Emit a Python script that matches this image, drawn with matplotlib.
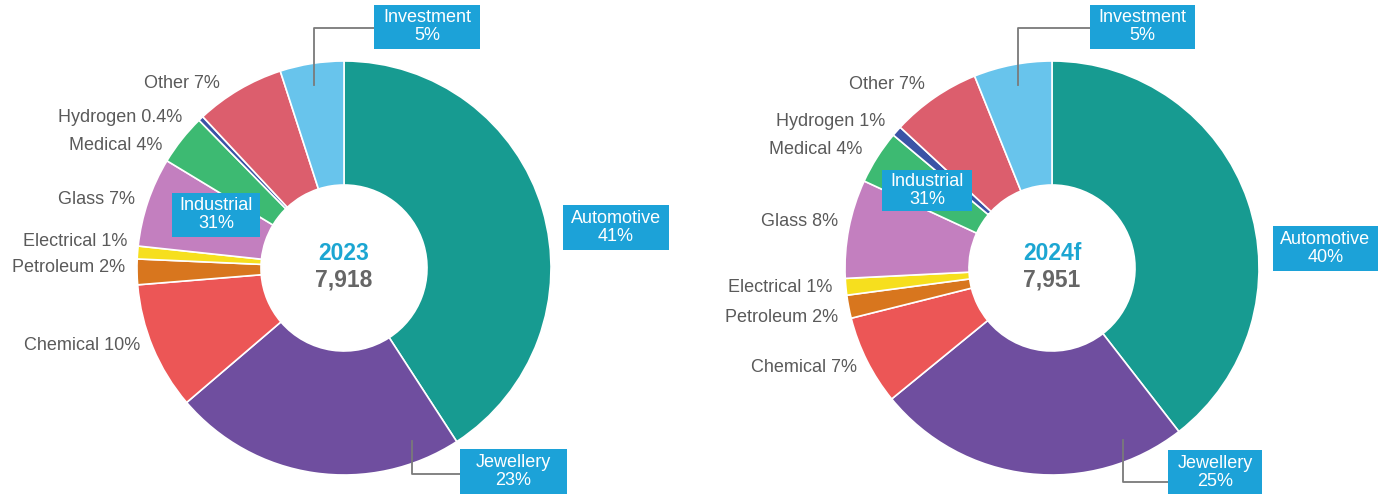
import matplotlib
matplotlib.use("Agg")
import matplotlib.pyplot as plt
from matplotlib.patches import Rectangle

# ---------------- data ----------------
categories = ["Automotive", "Jewellery", "Chemical", "Petroleum", "Electrical",
              "Glass", "Medical", "Hydrogen", "Other", "Investment"]
# wedge sizes (share of demand, %)
values_2023 = [41, 23, 10, 2, 1, 7, 4, 0.4, 7, 5]
values_2024 = [39.5, 24.6, 7.0, 1.8, 1.3, 7.7, 4.2, 0.8, 7.0, 6.1]
# printed labels
pct_text_2023 = ["41%", "23%", "10%", "2%", "1%", "7%", "4%", "0.4%", "7%", "5%"]
pct_text_2024 = ["40%", "25%", "7%", "2%", "1%", "8%", "4%", "1%", "7%", "5%"]
year_labels = ["2023", "2024f"]
totals = ["7,918", "7,951"]
industrial_share = ["31%", "31%"]

colors = ["#179b91", "#6f4e9f", "#ec5656", "#d8761e", "#f6df1e",
          "#c37fbf", "#3dba72", "#3b53a6", "#dc5e6d", "#68c4ec"]
BOX = "#1ca2d8"
GREY = "#5a5a5a"

W, H = 1383, 494
fig = plt.figure(figsize=(W / 100, H / 100), dpi=100)
ax = fig.add_axes([0, 0, 1, 1])
plt.rcParams["font.family"] = ["Liberation Sans", "DejaVu Sans"]


def Y(y):
    return H - y


def box(x0, y0, x1, y1, line1, line2):
    ax.add_patch(Rectangle((x0, Y(y1)), x1 - x0, y1 - y0, facecolor=BOX,
                           edgecolor="none", zorder=5))
    xm = (x0 + x1) / 2
    ym = (y0 + y1) / 2
    ax.text(xm, Y(ym - 9), line1, color="white", fontsize=13, ha="center",
            va="center", zorder=6)
    ax.text(xm, Y(ym + 9), line2, color="white", fontsize=13, ha="center",
            va="center", zorder=6)


charts = [
    dict(vals=values_2023, pct=pct_text_2023, cx=344, cy=268,
         inv_box=(374, 5, 480, 49), inv_line=[(374, 28), (314, 28), (314, 85)],
         jew_box=(460, 449, 567, 494), jew_line=[(460, 474), (412, 474), (412, 441)],
         aut_box=(563, 205, 669, 250),
         ind_box=(172, 193, 260, 237),
         small=[("Other", 220, 84), ("Hydrogen", 182, 117), ("Medical", 162, 145),
                ("Glass", 135, 200), ("Electrical", 127, 242),
                ("Petroleum", 125, 267), ("Chemical", 140, 345)]),
    dict(vals=values_2024, pct=pct_text_2024, cx=1052, cy=268,
         inv_box=(1090, 5, 1195, 49), inv_line=[(1090, 28), (1018, 28), (1018, 85)],
         jew_box=(1168, 450, 1262, 494), jew_line=[(1168, 482), (1123, 482), (1123, 440)],
         aut_box=(1273, 226, 1378, 271),
         ind_box=(882, 170, 972, 211),
         small=[("Other", 925, 85), ("Hydrogen", 885, 121), ("Medical", 862, 149),
                ("Glass", 838, 222), ("Electrical", 832, 288),
                ("Petroleum", 838, 317), ("Chemical", 857, 368)]),
]

R_OUT, R_IN = 207, 83

for i, c in enumerate(charts):
    ax.pie(c["vals"], colors=colors, startangle=90, counterclock=False,
           center=(c["cx"], Y(c["cy"])), radius=R_OUT,
           wedgeprops=dict(width=R_OUT - R_IN, edgecolor="white", linewidth=1.2))
    # centre text
    ax.text(c["cx"], Y(c["cy"] - 14), year_labels[i], color="#1ca6d2",
            fontsize=16.5, fontweight="bold", ha="center", va="center")
    ax.text(c["cx"], Y(c["cy"] + 12), totals[i], color="#666666",
            fontsize=16.5, fontweight="bold", ha="center", va="center")
    # leader lines
    for key in ("inv_line", "jew_line"):
        xs = [p[0] for p in c[key]]
        ys = [Y(p[1]) for p in c[key]]
        ax.plot(xs, ys, color="#7a7a7a", lw=1.3, zorder=4)
    # boxes
    box(*c["inv_box"], categories[9], c["pct"][9])
    box(*c["jew_box"], categories[1], c["pct"][1])
    box(*c["aut_box"], categories[0], c["pct"][0])
    box(*c["ind_box"], "Industrial", industrial_share[i])
    # small category labels
    for name, xr, yc in c["small"]:
        idx = categories.index(name)
        ax.text(xr, Y(yc), f"{name} {c['pct'][idx]}", color=GREY, fontsize=13,
                ha="right", va="center")

ax.set_xlim(0, W)
ax.set_ylim(0, H)
ax.set_aspect("equal")
ax.axis("off")
fig.savefig("out.png", dpi=100, facecolor="white")
